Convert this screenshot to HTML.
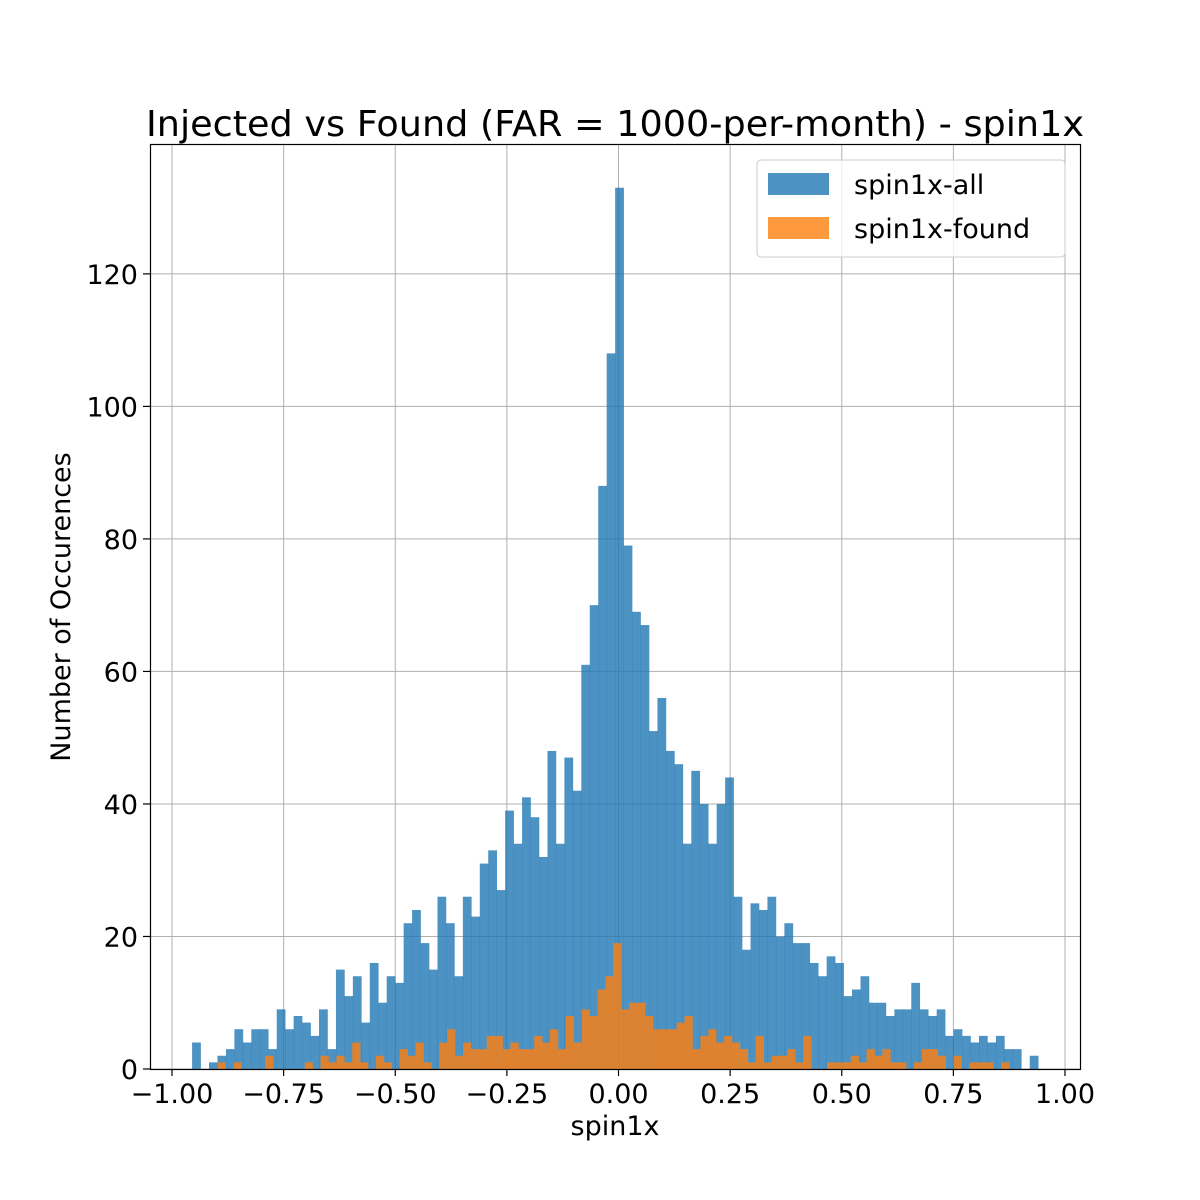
<!DOCTYPE html>
<html><head><meta charset="utf-8"><style>
html,body{margin:0;padding:0;background:#fff;}
svg{display:block;font-family:"DejaVu Sans","Liberation Sans",sans-serif;}
</style></head><body>
<svg id="chart" width="1200" height="1200" viewBox="0 0 1200 1200" xmlns="http://www.w3.org/2000/svg">
<rect width="1200" height="1200" fill="#fff"/>
<text x="615" y="136" text-anchor="middle" font-size="36" textLength="938" lengthAdjust="spacingAndGlyphs">Injected vs Found (FAR = 1000-per-month) - spin1x</text>
<g id="grid"></g>
<g id="bars-all"></g>
<g id="bars-found"></g>
<rect x="150.5" y="144.5" width="930" height="925" fill="none" stroke="#000" stroke-width="1.2"/>
<g id="xticks"></g>
<g id="yticks"></g>
<text x="615" y="1135" text-anchor="middle" font-size="27">spin1x</text>
<text transform="translate(70,607) rotate(-90)" text-anchor="middle" font-size="27">Number of Occurences</text>
<g>
<rect x="757" y="160" width="308" height="97" rx="4" fill="#fff" fill-opacity="0.8" stroke="#ccc"/>
<g>
<rect x="768" y="173" width="61" height="22" fill="#1f77b4" fill-opacity="0.8"/>
<text x="854" y="194" font-size="27">spin1x-all</text>
</g>
<g>
<rect x="768" y="217" width="61" height="22" fill="#ff7f0e" fill-opacity="0.8"/>
<text x="854" y="238" font-size="27">spin1x-found</text>
</g>
</g>
</svg>
<script>
const allCounts = [4,0,1,2,3,6,4,6,6,3,9,6,8,7,5,9,3,15,11,14,7,16,10,14,13,22,24,19,15,26,22,14,26,23,31,33,27,39,34,41,38,32,48,34,47,42,61,70,88,108,133,79,69,67,51,56,48,46,34,45,40,34,40,44,26,18,25,24,26,20,22,19,19,16,14,17,16,11,12,14,10,10,8,9,9,13,9,8,9,5,6,5,4,5,4,5,3,3,0,2];
const foundCounts = [1,0,1,0,0,0,2,0,0,0,0,1,0,2,1,2,1,4,1,0,2,1,0,3,2,4,1,0,4,6,2,4,3,3,5,5,3,4,3,3,5,4,6,3,8,4,9,8,12,14,19,9,10,10,8,6,6,6,7,8,3,5,6,4,5,4,3,1,5,1,2,2,3,1,5,0,0,1,1,1,2,1,3,2,3,1,1,0,1,3,3,2,0,2,0,1,1,1,0,1];
const allRange = [-0.955, 0.94];
const foundRange = [-0.8977, 0.8746];
const xTicks = [-1.0,-0.75,-0.5,-0.25,0,0.25,0.5,0.75,1.0];
const xTickLabels = ["\u22121.00","\u22120.75","\u22120.50","\u22120.25","0.00","0.25","0.50","0.75","1.00"];
const yTicks = [0,20,40,60,80,100,120];
const yTickLabels = ["0","20","40","60","80","100","120"];

const NS = "http://www.w3.org/2000/svg";
const X0 = 150, X1 = 1080, Y0 = 1069, Y1 = 144;
const xDom = [-1.0493, 1.0336], yDom = [0, 139.6];
function xs(v){ return X0 + (v - xDom[0]) / (xDom[1] - xDom[0]) * (X1 - X0); }
function ys(v){ return Y0 - (v - yDom[0]) / (yDom[1] - yDom[0]) * (Y0 - Y1); }
function mk(tag, attrs, parent){ const e = document.createElementNS(NS, tag); for (const k in attrs) e.setAttribute(k, attrs[k]); parent.appendChild(e); return e; }

const grid = document.getElementById('grid');
xTicks.forEach(t => {
  const l = mk('line', {x1: xs(t), x2: xs(t), y1: Y1, y2: Y0, stroke: '#b0b0b0', 'stroke-width': 1}, grid);
  
  
});
yTicks.forEach(t => {
  const l = mk('line', {x1: X0, x2: X1, y1: ys(t), y2: ys(t), stroke: '#b0b0b0', 'stroke-width': 1}, grid);
  
  
});

function drawHist(counts, range, color, gid, name){
  const g = document.getElementById(gid);
  const w = (range[1] - range[0]) / counts.length;
  counts.forEach((c, i) => {
    if (c <= 0) return;
    const xa = xs(range[0] + i * w), xb = xs(range[0] + (i + 1) * w);
    const r = mk('rect', {x: xa, y: ys(c), width: xb - xa + 0.3, height: ys(0) - ys(c), fill: color, 'fill-opacity': 0.8}, g);
    
    
  });
}
drawHist(allCounts, allRange, '#1f77b4', 'bars-all', 'all');
drawHist(foundCounts, foundRange, '#ff7f0e', 'bars-found', 'found');

const xg = document.getElementById('xticks');
xTicks.forEach((t, i) => {
  const l = mk('line', {x1: xs(t), x2: xs(t), y1: Y0, y2: Y0 + 7, stroke: '#000', 'stroke-width': 1.2}, xg);
  
  
  const tx = mk('text', {x: xs(t), y: Y0 + 34, 'text-anchor': 'middle', 'font-size': 27}, xg);
  tx.textContent = xTickLabels[i];
  
  
});
const yg = document.getElementById('yticks');
yTicks.forEach((t, i) => {
  const l = mk('line', {x1: X0 - 7, x2: X0, y1: ys(t), y2: ys(t), stroke: '#000', 'stroke-width': 1.2}, yg);
  
  
  const tx = mk('text', {x: X0 - 12, y: ys(t) + 10, 'text-anchor': 'end', 'font-size': 27}, yg);
  tx.textContent = yTickLabels[i];
  
  
});
</script>
</body></html>
